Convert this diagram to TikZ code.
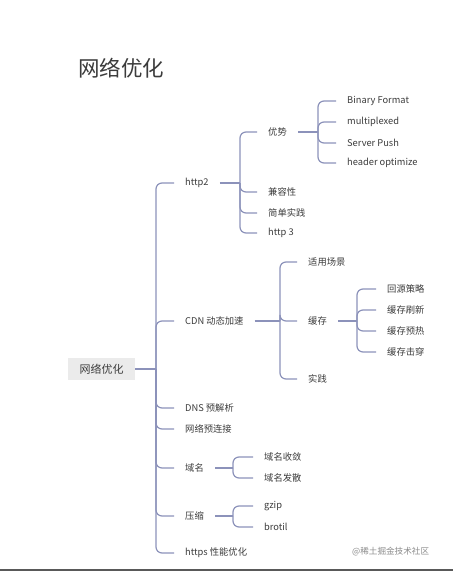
\documentclass[tikz,border=0pt]{standalone}
\usepackage{fontspec}
\setmainfont{Noto Sans CJK SC}
\definecolor{conn}{HTML}{8C92BA}
\definecolor{txt}{HTML}{3C3C3C}
\definecolor{rootbg}{HTML}{EBEBEB}
\begin{document}
\begin{tikzpicture}[x=1pt,y=-1pt,
  lbl/.style={anchor=west,inner xsep=11pt,inner ysep=2pt,text=txt,font=\fontsize{9.3}{11}\selectfont},
  cn/.style={draw=conn,line width=1.2pt,rounded corners=6pt},
  st/.style={draw=conn,line width=1.2pt}]
\useasboundingbox (0,0) rectangle (453,571);
\fill[white] (0,0) rectangle (453,571);
\fill[black!65] (0,568.5) rectangle (453,571);
% title
\node[anchor=west,inner sep=0pt,text=txt,font=\fontsize{21.5}{24}\selectfont] (title) at (78,68) {网络优化};
% root
\node[fill=rootbg,minimum width=67pt,minimum height=22pt,inner sep=0pt,text=txt,font=\fontsize{11}{13}\selectfont] (root) at (101.5,369) {网络优化};
% trunk x coordinates
\coordinate (t0) at (156,0);
\coordinate (t1) at (240,0);
\coordinate (t2) at (318,0);
\coordinate (t3) at (280,0);
\coordinate (t4) at (357,0);
\coordinate (t5) at (233,0);
% level 1
\node[lbl] (http2) at (174,183) {http2};
\node[lbl] (cdn) at (174,321) {CDN 动态加速};
\node[lbl] (dns) at (174,408) {DNS 预解析};
\node[lbl] (pre) at (174,429) {网络预连接};
\node[lbl] (dom) at (174,468) {域名};
\node[lbl] (comp) at (174,516) {压缩};
\node[lbl] (https) at (174,553) {https 性能优化};
% http2 children
\node[lbl] (adv) at (257,132) {优势};
\node[lbl] (compat) at (257,192) {兼容性};
\node[lbl] (simple) at (257,213) {简单实践};
\node[lbl] (h3) at (257,233) {http 3};
% adv children
\node[lbl] (bf) at (336,101) {Binary Format};
\node[lbl] (mp) at (336,122) {multiplexed};
\node[lbl] (sp) at (336,143) {Server Push};
\node[lbl] (ho) at (336,163) {header optimize};
% cdn children
\node[lbl] (scene) at (297,262) {适用场景};
\node[lbl] (cache) at (297,321) {缓存};
\node[lbl] (prac) at (297,379) {实践};
% cache children
\node[lbl] (c1) at (376,289) {回源策略};
\node[lbl] (c2) at (376,310) {缓存刷新};
\node[lbl] (c3) at (376,331) {缓存预热};
\node[lbl] (c4) at (376,352) {缓存击穿};
% domain children
\node[lbl] (d1) at (253,457) {域名收敛};
\node[lbl] (d2) at (253,478) {域名发散};
% compression children
\node[lbl] (z1) at (253,506) {gzip};
\node[lbl] (z2) at (253,527) {brotil};
% watermark label
\node[anchor=west,inner sep=0pt,text=black!45,font=\fontsize{8.6}{10}\selectfont] (wm) at (352,552) {@稀土掘金技术社区};
% connectors: root
\draw[st] (root.east) -- (root.east -| t0);
\foreach \c in {http2,cdn,dns,pre,dom,comp,https}
  \draw[cn] (root.east -| t0) |- (\c.west);
% http2
\draw[st] (http2.east) -- (http2.east -| t1);
\foreach \c in {adv,compat,simple,h3}
  \draw[cn] (http2.east -| t1) |- (\c.west);
% adv
\draw[st] (adv.east) -- (adv.east -| t2);
\foreach \c in {bf,mp,sp,ho}
  \draw[cn] (adv.east -| t2) |- (\c.west);
% cdn
\draw[st] (cdn.east) -- (cdn.east -| t3);
\foreach \c in {scene,cache,prac}
  \draw[cn] (cdn.east -| t3) |- (\c.west);
% cache
\draw[st] (cache.east) -- (cache.east -| t4);
\foreach \c in {c1,c2,c3,c4}
  \draw[cn] (cache.east -| t4) |- (\c.west);
% domain
\draw[st] (dom.east) -- (dom.east -| t5);
\foreach \c in {d1,d2}
  \draw[cn] (dom.east -| t5) |- (\c.west);
% compression
\draw[st] (comp.east) -- (comp.east -| t5);
\foreach \c in {z1,z2}
  \draw[cn] (comp.east -| t5) |- (\c.west);
\end{tikzpicture}
\end{document}
